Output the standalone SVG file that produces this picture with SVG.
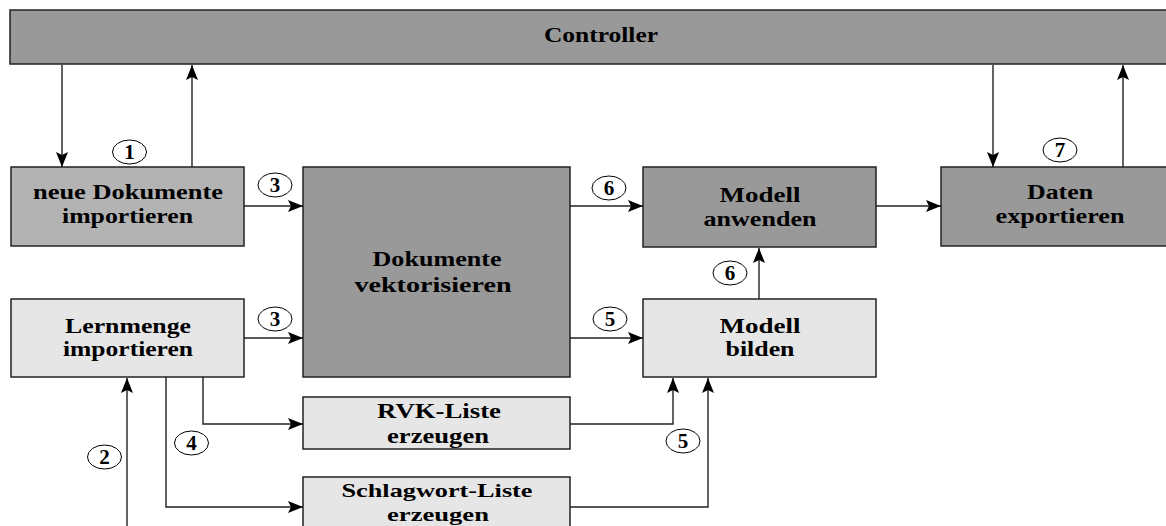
<svg xmlns="http://www.w3.org/2000/svg" width="1166" height="526" viewBox="0 0 1166 526">
<defs>
<marker id="ah" markerUnits="userSpaceOnUse" markerWidth="16" markerHeight="14" refX="15" refY="6" orient="auto">
<path d="M0,0 L15,6 L0,12 L3,6 z" fill="#000"/>
</marker>
<style>
.box{stroke:#222;stroke-width:1.5}
.dark{fill:#999999}
.mid{fill:#b3b3b3}
.light{fill:#e6e6e6}
.t{font-family:"Liberation Serif","Times New Roman",serif;font-weight:bold;font-size:22px;fill:#000;text-anchor:middle}
.s{font-size:19px}
.c{fill:#fff;stroke:#000;stroke-width:1}
.n{font-family:"Liberation Serif","Times New Roman",serif;font-weight:bold;font-size:21px;fill:#000;text-anchor:middle}
.l{fill:none;stroke:#222;stroke-width:1.4}
</style>
</defs>
<rect width="1166" height="526" fill="#fff"/>

<g id="controller">
<rect class="box dark" x="10" y="10" width="1170" height="54"/>
<text class="t" x="601" y="42" textLength="114" lengthAdjust="spacingAndGlyphs">Controller</text>
</g>

<g id="neue-dokumente">
<rect class="box mid" x="11" y="167" width="233" height="79"/>
<text class="t" x="128" y="199" textLength="190" lengthAdjust="spacingAndGlyphs">neue Dokumente</text>
<text class="t" x="127.5" y="223" textLength="131" lengthAdjust="spacingAndGlyphs">importieren</text>
</g>

<g id="lernmenge">
<rect class="box light" x="11" y="299" width="233" height="78"/>
<text class="t" x="128" y="333" textLength="126" lengthAdjust="spacingAndGlyphs">Lernmenge</text>
<text class="t" x="128" y="356" textLength="130" lengthAdjust="spacingAndGlyphs">importieren</text>
</g>

<g id="vektorisieren">
<rect class="box dark" x="303" y="167" width="267" height="210"/>
<text class="t" x="437" y="266" textLength="129" lengthAdjust="spacingAndGlyphs">Dokumente</text>
<text class="t" x="433" y="292" textLength="157" lengthAdjust="spacingAndGlyphs">vektorisieren</text>
</g>

<g id="rvk">
<rect class="box light" x="303" y="397" width="267" height="52"/>
<text class="t" x="439" y="418" textLength="124" lengthAdjust="spacingAndGlyphs">RVK-Liste</text>
<text class="t" x="438" y="443" textLength="102" lengthAdjust="spacingAndGlyphs">erzeugen</text>
</g>

<g id="schlagwort">
<rect class="box light" x="303" y="477" width="267" height="60"/>
<text class="t s" x="437" y="497" textLength="191" lengthAdjust="spacingAndGlyphs">Schlagwort-Liste</text>
<text class="t s" x="438" y="521" textLength="102" lengthAdjust="spacingAndGlyphs">erzeugen</text>
</g>

<g id="modell-anwenden">
<rect class="box dark" x="643" y="167" width="233" height="80"/>
<text class="t" x="760" y="202" textLength="81" lengthAdjust="spacingAndGlyphs">Modell</text>
<text class="t" x="760" y="226" textLength="113" lengthAdjust="spacingAndGlyphs">anwenden</text>
</g>

<g id="modell-bilden">
<rect class="box light" x="643" y="299" width="233" height="78"/>
<text class="t" x="760" y="333" textLength="81" lengthAdjust="spacingAndGlyphs">Modell</text>
<text class="t" x="760" y="356" textLength="69" lengthAdjust="spacingAndGlyphs">bilden</text>
</g>

<g id="daten">
<rect class="box dark" x="941" y="167" width="240" height="79"/>
<text class="t" x="1060" y="199" textLength="66" lengthAdjust="spacingAndGlyphs">Daten</text>
<text class="t" x="1060" y="223" textLength="129" lengthAdjust="spacingAndGlyphs">exportieren</text>
</g>

<g id="connectors">
<path class="l" d="M62,65 V167" marker-end="url(#ah)"/>
<path class="l" d="M192,167 V65" marker-end="url(#ah)"/>
<path class="l" d="M244,206 H303" marker-end="url(#ah)"/>
<path class="l" d="M244,338 H303" marker-end="url(#ah)"/>
<path class="l" d="M203,377 V424 H303" marker-end="url(#ah)"/>
<path class="l" d="M166,377 V507 H303" marker-end="url(#ah)"/>
<path class="l" d="M127,526 V378" marker-end="url(#ah)"/>
<path class="l" d="M570,206 H643" marker-end="url(#ah)"/>
<path class="l" d="M570,338 H643" marker-end="url(#ah)"/>
<path class="l" d="M570,424 H673 V378" marker-end="url(#ah)"/>
<path class="l" d="M570,507 H708 V378" marker-end="url(#ah)"/>
<path class="l" d="M759,299 V248" marker-end="url(#ah)"/>
<path class="l" d="M876,206 H941" marker-end="url(#ah)"/>
<path class="l" d="M993,65 V167" marker-end="url(#ah)"/>
<path class="l" d="M1123,167 V65" marker-end="url(#ah)"/>
</g>

<g id="labels">
<ellipse class="c" cx="129.5" cy="152" rx="17" ry="12"/><text class="n" x="129.5" y="159">1</text>
<ellipse class="c" cx="275" cy="185" rx="17" ry="12"/><text class="n" x="275" y="192">3</text>
<ellipse class="c" cx="275" cy="319" rx="17" ry="12"/><text class="n" x="275" y="326">3</text>
<ellipse class="c" cx="104.5" cy="457" rx="17" ry="12"/><text class="n" x="104.5" y="464">2</text>
<ellipse class="c" cx="191.5" cy="443" rx="17" ry="12"/><text class="n" x="191.5" y="450">4</text>
<ellipse class="c" cx="610" cy="319" rx="17" ry="12"/><text class="n" x="610" y="326">5</text>
<ellipse class="c" cx="683" cy="441" rx="17" ry="12"/><text class="n" x="683" y="448">5</text>
<ellipse class="c" cx="609" cy="188" rx="17" ry="12"/><text class="n" x="609" y="195">6</text>
<ellipse class="c" cx="730" cy="273" rx="17" ry="12"/><text class="n" x="730" y="280">6</text>
<ellipse class="c" cx="1060" cy="150" rx="17" ry="12"/><text class="n" x="1060" y="157">7</text>
</g>
</svg>
